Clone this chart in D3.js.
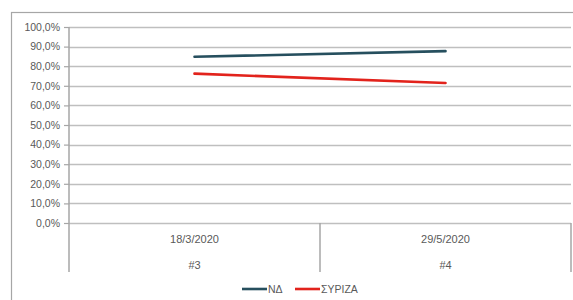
<!DOCTYPE html>
<html>
<head>
<meta charset="utf-8">
<script src="https://cdn.jsdelivr.net/npm/d3@7"></script>
<style>
  body { margin: 0; background: #fff; }
  svg { display: block; font-family: "Liberation Sans", Arial, sans-serif; }
</style>
</head>
<body>
<div id="chart"></div>
<script>
// data
var dates = ["18/3/2020", "29/5/2020"];
var waves = ["#3", "#4"];
var nd = [0.848, 0.877];
var syriza = [0.762, 0.714];
var yTicks = [0, 0.1, 0.2, 0.3, 0.4, 0.5, 0.6, 0.7, 0.8, 0.9, 1.0];

var series = [
  { name: "ΝΔ", values: nd, color: "#264f5e" },
  { name: "ΣΥΡΙΖΑ", values: syriza, color: "#e2231c" }
];

var W = 573, H = 300;
var plotLeft = 69, plotRight = 571, plotTop = 27, plotBottom = 223, catBottom = 272;

var svg = d3.select("#chart").append("svg")
  .attr("width", W)
  .attr("height", H);

// outer frame (runs off the right and bottom)
svg.append("rect")
  .attr("x", 11.5).attr("y", 12.5)
  .attr("width", W + 10).attr("height", H + 10)
  .attr("fill", "none")
  .attr("stroke", "#a6a6a6")
  .attr("stroke-width", 1.2);

var x = d3.scaleBand().domain(d3.range(dates.length)).range([plotLeft, plotRight]);
var y = d3.scaleLinear().domain([0, 1]).range([plotBottom, plotTop]);

var fmt = function(d) { return d3.format(".1f")(d * 100).replace(".", ",") + "%"; };

// gridlines
svg.append("g").selectAll("line")
  .data(yTicks)
  .join("line")
  .attr("x1", plotLeft).attr("x2", plotRight)
  .attr("y1", d => Math.round(y(d)) + 0.5).attr("y2", d => Math.round(y(d)) + 0.5)
  .attr("stroke", "#bfbfbf")
  .attr("stroke-width", 1.5);

// y axis
var yAxis = svg.append("g")
  .attr("transform", "translate(" + plotLeft + ",0)")
  .call(d3.axisLeft(y).tickValues(yTicks).tickFormat(fmt).tickSize(5).tickPadding(4));
yAxis.select(".domain").remove();
yAxis.selectAll(".tick line").attr("stroke", "#a6a6a6").attr("stroke-width", 1.2);
yAxis.selectAll(".tick text")
  .attr("fill", "#595959")
  .attr("font-size", 10.5)
  .attr("font-family", "Liberation Sans, Arial, sans-serif");

// category separators
var seps = [plotLeft].concat(dates.map((d, i) => x(i) + x.bandwidth()));
svg.append("g").selectAll("line")
  .data(seps)
  .join("line")
  .attr("x1", d => d).attr("x2", d => d)
  .attr("y1", (d, i) => i === 0 ? plotTop : plotBottom)
  .attr("y2", catBottom)
  .attr("stroke", "#a6a6a6")
  .attr("stroke-width", 1.5);

// category labels (two levels)
var cats = svg.append("g")
  .attr("fill", "#595959")
  .attr("font-size", 11)
  .attr("text-anchor", "middle");
cats.selectAll(".date")
  .data(dates)
  .join("text")
  .attr("class", "date")
  .attr("x", (d, i) => x(i) + x.bandwidth() / 2)
  .attr("y", 243)
  .text(d => d);
cats.selectAll(".wave")
  .data(waves)
  .join("text")
  .attr("class", "wave")
  .attr("x", (d, i) => x(i) + x.bandwidth() / 2)
  .attr("y", 269)
  .text(d => d);

// lines
var line = d3.line()
  .x((d, i) => x(i) + x.bandwidth() / 2)
  .y(d => y(d));

svg.append("g").selectAll("path")
  .data(series)
  .join("path")
  .attr("d", d => line(d.values))
  .attr("fill", "none")
  .attr("stroke", d => d.color)
  .attr("stroke-width", 2.6)
  .attr("stroke-linecap", "round");

// legend
var legendX = [242, 295];
var legend = svg.append("g").selectAll("g")
  .data(series)
  .join("g")
  .attr("transform", (d, i) => "translate(" + legendX[i] + ",289)");
legend.append("line")
  .attr("x1", 0).attr("x2", 25)
  .attr("stroke", d => d.color)
  .attr("stroke-width", 2.6);
legend.append("text")
  .attr("x", 26)
  .attr("dy", "0.35em")
  .attr("fill", "#595959")
  .attr("font-size", 10.5)
  .text(d => d.name);
</script>
</body>
</html>
